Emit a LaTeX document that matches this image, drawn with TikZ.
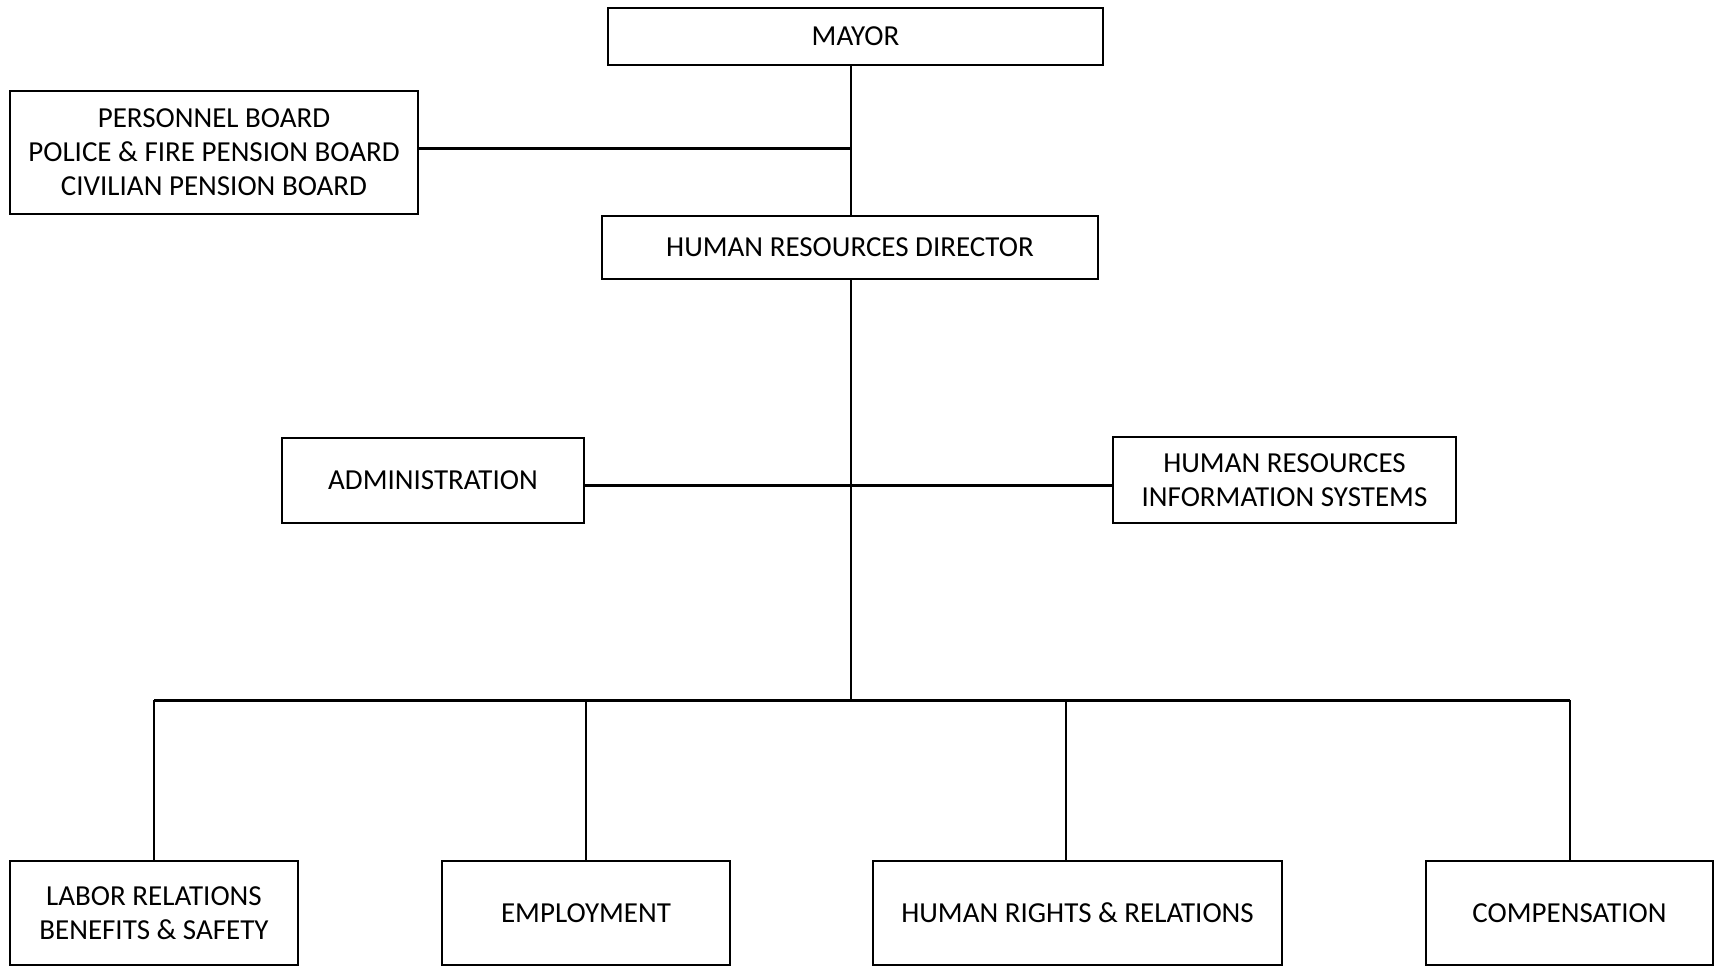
\documentclass[tikz,border=0pt]{standalone}
\usepackage{fontspec}
\setmainfont{Carlito}
\usetikzlibrary{positioning}

\begin{document}
\begin{tikzpicture}[x=1pt, y=-1pt, line join=miter,
                    unit node/.style={draw, line width=2pt, align=center, inner sep=0pt,
                      font=\fontsize{29}{34}\selectfont},
                    link/.style={line width=2pt},
                    bar/.style={line width=3pt}]
  \useasboundingbox (0,0) rectangle (1716,966);

  \node[unit node, minimum width=495pt, minimum height=57pt] (mayor) at (855.5,36.5) {MAYOR};
  \node[unit node, minimum width=408pt, minimum height=123pt] (boards) at (214,152.5)
    {PERSONNEL BOARD\\POLICE \& FIRE PENSION BOARD\\CIVILIAN PENSION BOARD};
  \node[unit node, minimum width=496pt, minimum height=63pt] (director) at (850,247.5)
    {HUMAN RESOURCES DIRECTOR};
  \node[unit node, minimum width=302pt, minimum height=85pt] (admin) at (433,480.5)
    {ADMINISTRATION};
  \node[unit node, minimum width=343pt, minimum height=86pt] (hris) at (1284.5,480)
    {HUMAN RESOURCES\\INFORMATION SYSTEMS};

  \node[unit node, minimum width=288pt, minimum height=104pt] (labor) at (154,913)
    {LABOR RELATIONS\\BENEFITS \& SAFETY};
  \node[unit node, minimum width=288pt, minimum height=104pt] (employ) at (586,913)
    {EMPLOYMENT};
  \node[unit node, minimum width=409pt, minimum height=104pt] (rights) at (1077.5,913)
    {HUMAN RIGHTS \& RELATIONS};
  \node[unit node, minimum width=287pt, minimum height=104pt] (comp) at (1569.5,913)
    {COMPENSATION};

  \coordinate (bus) at (851,700);
  \coordinate (rights top) at ([xshift=-11.5pt]rights.north);

  % trunk
  \draw[link] (mayor.south -| bus) -- (director.north -| bus);
  \draw[link] (director.south -| bus) -- (bus);
  \draw[bar] ([yshift=4.5pt]boards.east) -- ([yshift=4.5pt]boards.east -| bus);
  \draw[bar] ([yshift=-4.5pt]admin.east) -- ([yshift=-4.5pt]admin.east -| hris.west);

  % bottom row
  \draw[bar] (labor.north |- bus) -- (comp.north |- bus);
  \foreach \n in {labor, employ, rights top, comp}
    \draw[link] (\n) -- (\n |- bus);
\end{tikzpicture}
\end{document}
